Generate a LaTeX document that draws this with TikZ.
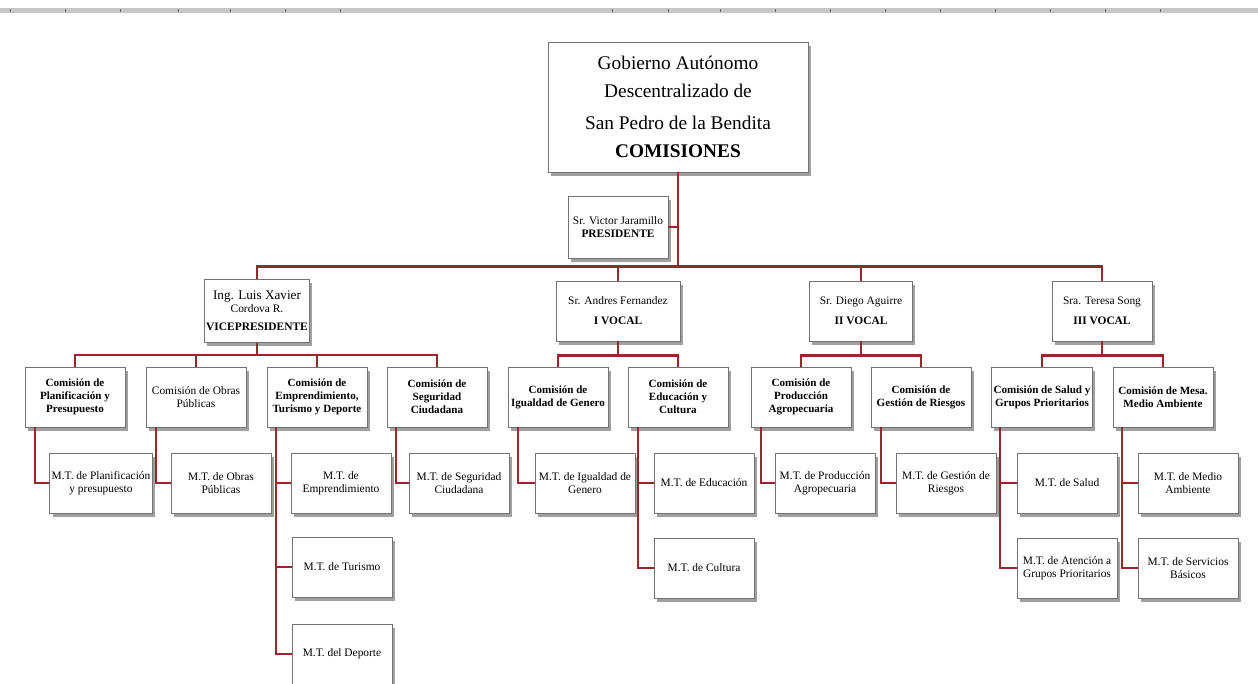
\documentclass[tikz,border=0pt]{standalone}
\usepackage{fontspec}
\setmainfont{Liberation Serif}
\usetikzlibrary{shadows}

\definecolor{granate}{RGB}{150,40,45}
\tikzset{
  caja/.style={rectangle,draw=black!55,line width=0.5pt,fill=white,
    drop shadow={shadow xshift=1.5pt,shadow yshift=-2pt,fill=black!50,opacity=.75},
    minimum width=20mm,minimum height=12mm,align=center,inner sep=1pt,
    font=\fontsize{6.5}{7.4}\selectfont},
  comision/.style={caja,font=\fontsize{6.3}{7.4}\selectfont\bfseries},
  linea/.style={draw=granate,line width=1.2pt},
}

\begin{document}
\begin{tikzpicture}[x=0.2mm,y=-0.2mm]
	\useasboundingbox (0,0) rectangle (1258,683);
	% regla de la pagina
	\fill[black!22] (0,8) rectangle (1258,13);
	\foreach \t in {10,65,120,178,230,285,340,612,668,720,775,830,885,940,995,1050,1105,1160}
		\draw[black!60,line width=0.4pt] (\t,9) -- (\t,12);

	\node[caja,minimum width=52mm,minimum height=26mm,font=\fontsize{11}{16}\selectfont] (gad) at (678,107) {Gobierno Autónomo\\Descentralizado de\\[2pt]San Pedro de la Bendita\\\textbf{COMISIONES}};
	\node[caja,minimum height=12.4mm] (pres) at (618,227) {Sr. Victor Jaramillo\\\textbf{PRESIDENTE}};

	\node[caja,minimum height=12.6mm] (vp) at (257,311) {{\fontsize{7.5}{8}\selectfont Ing. Luis Xavier}\\Cordova R.\\[3pt]\textbf{VICEPRESIDENTE}};
	\node[caja,minimum width=24.8mm] (voc1) at (618,311) {Sr. Andres Fernandez\\[4pt]\textbf{I VOCAL}};
	\node[caja,minimum width=20.6mm] (voc2) at (861,311) {Sr. Diego Aguirre\\[4pt]\textbf{II VOCAL}};
	\node[caja] (voc3) at (1102,311) {Sra. Teresa Song\\[4pt]\textbf{III VOCAL}};

	% comisiones
	\node[comision] (plan) at (75,397) {Comisión de\\Planificación y\\Presupuesto};
	\node[caja] (obras) at (196,397) {Comisión de Obras\\Públicas};
	\node[comision] (emp) at (317,397) {Comisión de\\Emprendimiento,\\Turismo y Deporte};
	\node[comision] (seg) at (437,397) {Comisión de\\Seguridad\\Ciudadana};
	\node[comision] (igual) at (558,397) {Comisión de\\Igualdad de Genero};
	\node[comision] (educ) at (678,397) {Comisión de\\Educación y\\Cultura};
	\node[comision] (prod) at (801,397) {Comisión de\\Producción\\Agropecuaria};
	\node[comision] (gest) at (921,397) {Comisión de\\Gestión de Riesgos};
	\node[comision] (salud) at (1042,397) {Comisión de Salud y\\Grupos Prioritarios};
	\node[comision] (medio) at (1163,397) {Comisión de Mesa.\\Medio Ambiente};

	% mesas tecnicas
	\node[caja] (mtplan) at (101,483) {M.T. de Planificación\\y presupuesto};
	\node[caja] (mtobras) at (221,483) {M.T. de Obras\\Públicas};
	\node[caja] (mtemp) at (341,483) {M.T. de\\Emprendimiento};
	\node[caja] (mttur) at (342,567) {M.T. de Turismo};
	\node[caja] (mtdep) at (342,654) {M.T. del Deporte};
	\node[caja] (mtseg) at (459,483) {M.T. de Seguridad\\Ciudadana};
	\node[caja] (mtigual) at (585,483) {M.T. de Igualdad de\\Genero};
	\node[caja] (mteduc) at (704,483) {M.T. de Educación};
	\node[caja] (mtcult) at (704,568) {M.T. de Cultura};
	\node[caja] (mtprod) at (825,483) {M.T. de Producción\\Agropecuaria};
	\node[caja] (mtgest) at (946,483) {M.T. de Gestión de\\Riesgos};
	\node[caja] (mtsalud) at (1067,483) {M.T. de Salud};
	\node[caja] (mtaten) at (1067,568) {M.T. de Atención a\\Grupos Prioritarios};
	\node[caja] (mtmedio) at (1188,483) {M.T. de Medio\\Ambiente};
	\node[caja] (mtserv) at (1188,568) {M.T. de Servicios\\Básicos};

	\draw[linea] (pres.east) -- (pres.east -| gad.south);
	\foreach \v in {vp,voc1,voc2,voc3}
		\draw[linea] (gad.south) -- ++(0,94) -| (\v.north);
	\foreach \c in {plan,obras,emp,seg}
		\draw[linea] (vp.south) -- ++(0,12) -| (\c.north);
	\foreach \c in {igual,educ}
		\draw[linea] (voc1.south) -- ++(0,14) -| (\c.north);
	\foreach \c in {prod,gest}
		\draw[linea] (voc2.south) -- ++(0,14) -| (\c.north);
	\foreach \c in {salud,medio}
		\draw[linea] (voc3.south) -- ++(0,14) -| (\c.north);

	\draw[linea] ([xshift=2mm]plan.south west) |- (mtplan.west);
	\draw[linea] ([xshift=2mm]obras.south west) |- (mtobras.west);
	\foreach \m in {mtemp,mttur,mtdep}
		\draw[linea] ([xshift=1.8mm]emp.south west) |- (\m.west);
	\draw[linea] ([xshift=1.8mm]seg.south west) |- (mtseg.west);
	\draw[linea] ([xshift=2mm]igual.south west) |- (mtigual.west);
	\foreach \m in {mteduc,mtcult}
		\draw[linea] ([xshift=2mm]educ.south west) |- (\m.west);
	\draw[linea] ([xshift=2mm]prod.south west) |- (mtprod.west);
	\draw[linea] ([xshift=2mm]gest.south west) |- (mtgest.west);
	\foreach \m in {mtsalud,mtaten}
		\draw[linea] ([xshift=1.8mm]salud.south west) |- (\m.west);
	\foreach \m in {mtmedio,mtserv}
		\draw[linea] ([xshift=1.8mm]medio.south west) |- (\m.west);
\end{tikzpicture}
\end{document}
